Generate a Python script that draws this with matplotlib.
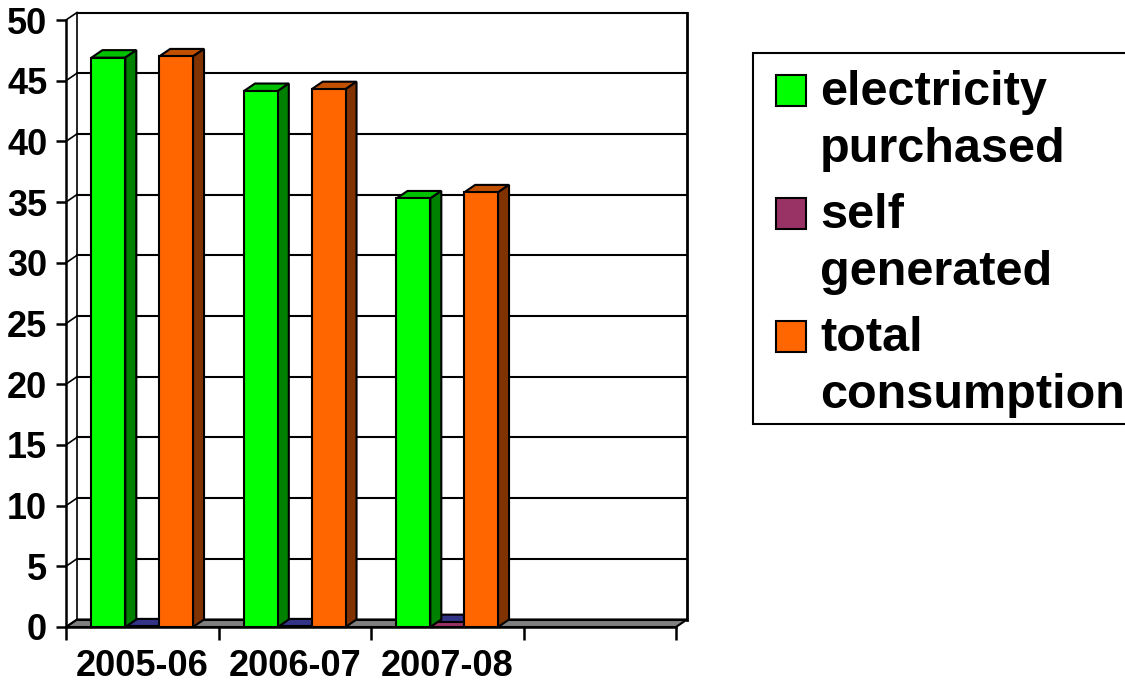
import matplotlib
matplotlib.use("Agg")
import matplotlib.pyplot as plt
from matplotlib.patches import Polygon, Rectangle

# data
years = ["2005-06", "2006-07", "2007-08"]
purchased = [46.9, 44.15, 35.3]
self_gen = [0.05, 0.05, 0.4]
total = [47.0, 44.3, 35.8]
series_names = ["electricity\npurchased", "self\ngenerated", "total\nconsumption"]
n_slots = 4  # Excel left an empty fourth category

# colours: front, top, side
front_cols = ["#00ff00", "#993366", "#ff6600"]
top_cols = ["#00c000", "#333388", "#c05000"]
side_cols = ["#008000", "#4d1a33", "#803300"]

W, H = 1125, 687
fig = plt.figure(figsize=(W / 100, H / 100), dpi=100)
ax = fig.add_axes([66 / W, (H - 627) / H, 610 / W, 607 / H])
ax.set_xlim(0, n_slots)
ax.set_ylim(0, 50)

# depth offset of the pseudo-3d view, in data units
dx = 11 / (610 / n_slots)
dy = 7.5 / (607 / 50)

bold = dict(family="Liberation Sans", weight="bold")

# floor
ax.add_patch(Polygon([(0, 0), (n_slots, 0), (n_slots + dx, dy), (dx, dy)],
                     closed=True, fc="#808080", ec="black", lw=1.5,
                     zorder=1, clip_on=False))
# back wall + side wall gridlines
for v in range(0, 55, 5):
    ax.plot([dx, n_slots + dx], [v + dy, v + dy], color="black", lw=1.5,
            zorder=1.5, clip_on=False)
    ax.plot([0, dx], [v, v + dy], color="black", lw=1.2, zorder=1.5, clip_on=False)
ax.plot([dx, dx], [dy, 50 + dy], color="black", lw=1.2, zorder=1.5, clip_on=False)
ax.plot([n_slots + dx, n_slots + dx], [dy, 50 + dy], color="black", lw=2,
        zorder=1.5, clip_on=False)

# bars
w = 0.222
all_vals = [purchased, self_gen, total]
for s, vals in enumerate(all_vals):
    z = 3 if s == 1 else 4
    for i, h in enumerate(vals):
        x0 = i + 0.5 + (s - 1) * w - w / 2
        x1 = x0 + w
        ax.bar(x0, h, w, align="edge", color=front_cols[s], edgecolor="black",
               lw=1.5, zorder=z + 0.2)
        ax.add_patch(Polygon([(x0, h), (x1, h), (x1 + dx, h + dy), (x0 + dx, h + dy)],
                             closed=True, fc=top_cols[s], ec="black", lw=1.5,
                             zorder=z, clip_on=False))
        ax.add_patch(Polygon([(x1, 0), (x1 + dx, dy), (x1 + dx, h + dy), (x1, h)],
                             closed=True, fc=side_cols[s], ec="black", lw=1.5,
                             zorder=z, clip_on=False))

# axes
for sp in ["top", "right"]:
    ax.spines[sp].set_visible(False)
ax.spines["left"].set_linewidth(1.8)
ax.spines["bottom"].set_linewidth(1.8)
ax.spines["left"].set_zorder(5)
ax.spines["bottom"].set_zorder(5)
ax.set_yticks(range(0, 55, 5))
ax.set_yticklabels([str(v) for v in range(0, 55, 5)], **bold, fontsize=26)
ax.tick_params(axis="y", direction="out", length=7.5, width=1.8, pad=6)
ax.set_xticks(range(n_slots + 1))
ax.set_xticklabels([])
ax.tick_params(axis="x", which="major", direction="out", length=9.5, width=1.8)
ax.set_xticks([i + 0.5 for i in range(len(years))], minor=True)
ax.set_xticklabels(years, minor=True, **bold, fontsize=26)
ax.tick_params(axis="x", which="minor", length=0, pad=16)
ax.set_facecolor("none")

# legend drawn by hand so the swatch sits on the first line
fig.patches.append(Rectangle((753 / W, (H - 424) / H), 400 / W, 371 / H,
                             transform=fig.transFigure, fc="white", ec="black",
                             lw=1.5, clip_on=False))
first_base = [105, 228, 351]
for s, name in enumerate(series_names):
    b = first_base[s]
    fig.patches.append(Rectangle((776 / W, (H - b - 1) / H), 30 / W, 31 / H,
                                 transform=fig.transFigure, fc=front_cols[s],
                                 ec="black", lw=1.5))
    for k, line in enumerate(name.split("\n")):
        fig.text(820 / W, (H - b - 57 * k) / H, line, ha="left", va="baseline",
                 fontsize=35, **bold)

fig.savefig("out.png", dpi=100)
